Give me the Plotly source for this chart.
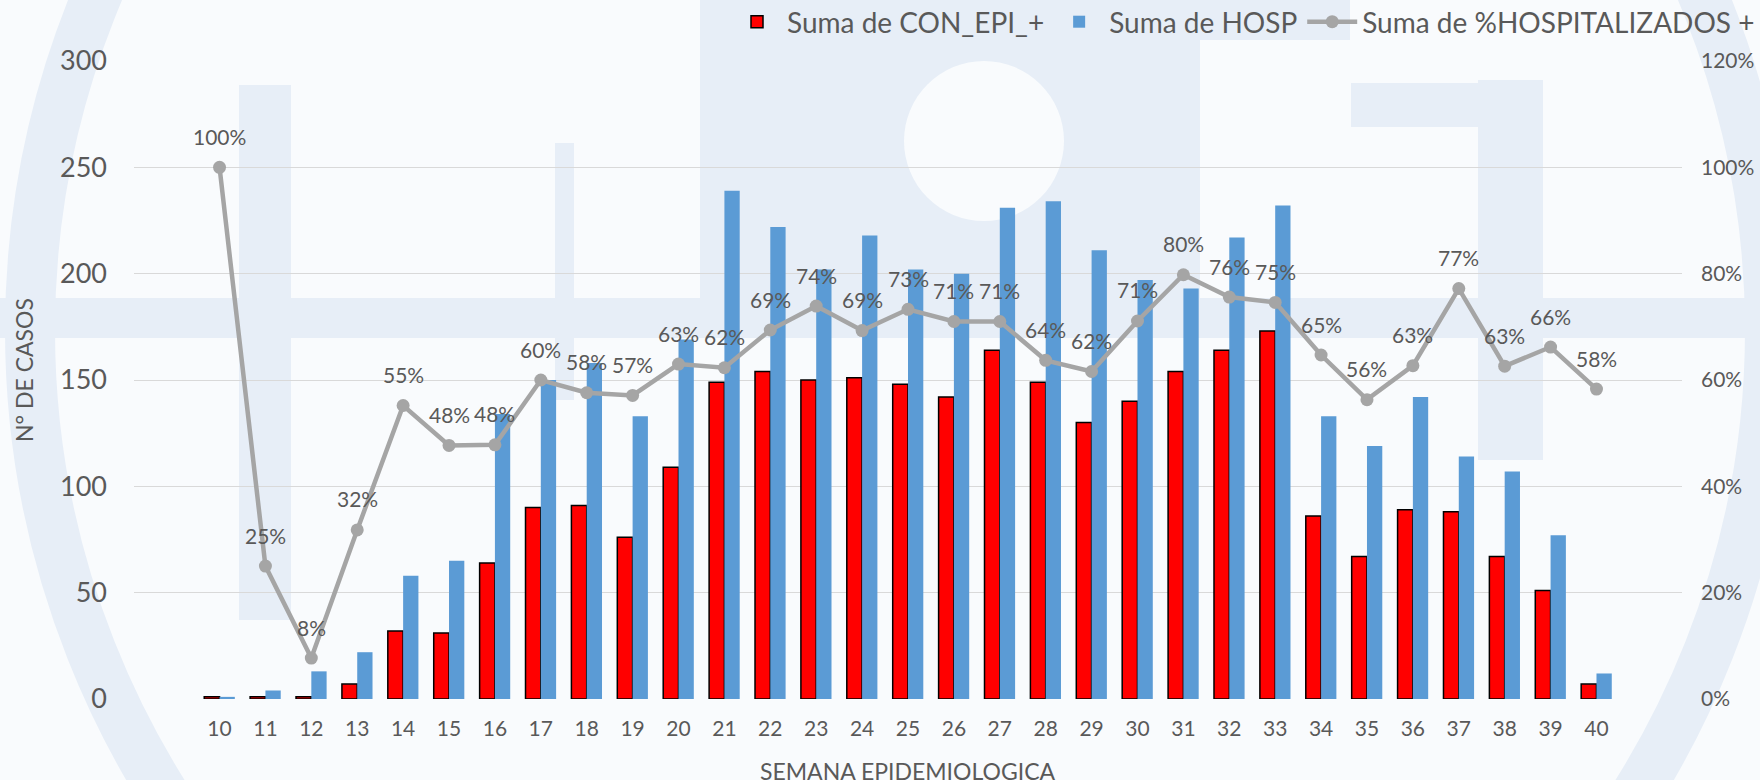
import plotly.graph_objects as go

# Epidemiological weeks
weeks = ["10", "11", "12", "13", "14", "15", "16", "17", "18", "19", "20",
         "21", "22", "23", "24", "25", "26", "27", "28", "29", "30",
         "31", "32", "33", "34", "35", "36", "37", "38", "39", "40"]

# Confirmed epidemiological cases per week
con_epi = [1, 1, 1, 7, 32, 31, 64, 90, 91, 76, 109,
           149, 154, 150, 151, 148, 142, 164, 149, 130, 140,
           154, 164, 173, 86, 67, 89, 88, 67, 51, 7]

# Hospitalised cases per week
hosp = [1, 4, 13, 22, 58, 65, 134, 150, 158, 133, 169,
        239, 222, 202, 218, 202, 200, 231, 234, 211, 197,
        193, 217, 232, 133, 119, 142, 114, 107, 77, 12]

# Share hospitalised (fraction)
pct_hosp = [1.00, 0.25, 0.077, 0.318, 0.552, 0.477, 0.478, 0.600, 0.576, 0.571, 0.630,
            0.623, 0.694, 0.739, 0.693, 0.733, 0.710, 0.710, 0.637, 0.616, 0.711,
            0.798, 0.756, 0.746, 0.647, 0.563, 0.627, 0.772, 0.626, 0.662, 0.583]

W, H = 1760, 780
ML, MR, MT, MB = 134, 78, 61, 81
PW, PH = W - ML - MR, H - MT - MB

TEXT = "#595959"
FONT = "Lato"


def px(x):
    return (x - ML) / PW


def py(y):
    return (H - MB - y) / PH


fig = go.Figure()

fig.add_trace(go.Bar(
    x=weeks, y=con_epi, name="Suma de CON_EPI_+",
    marker=dict(color="#FF0000", line=dict(color="#000000", width=1.5)),
))
fig.add_trace(go.Bar(
    x=weeks, y=hosp, name="Suma de HOSP",
    marker=dict(color="#5B9BD5", line=dict(width=0)),
))
fig.add_trace(go.Scatter(
    x=weeks, y=pct_hosp, name="Suma de %HOSPITALIZADOS +", yaxis="y2",
    mode="lines+markers",
    line=dict(color="#A5A5A5", width=4.5),
    marker=dict(color="#A5A5A5", size=13),
))

annotations = []
# percentage labels above each point (category index on the x axis)
for i, p in enumerate(pct_hosp):
    annotations.append(dict(
        x=i, y=p, xref="x", yref="y2", text=f"{round(p * 100)}%",
        showarrow=False, yshift=31, font=dict(size=21, color=TEXT, family=FONT),
    ))

annotations.append(dict(
    x=px(24), y=py(370), xref="paper", yref="paper", text="N° DE CASOS",
    textangle=-90, showarrow=False, xanchor="center", yanchor="middle",
    font=dict(size=23, color=TEXT, family=FONT),
))
annotations.append(dict(
    x=0.5, y=py(771), xref="paper", yref="paper", text="SEMANA EPIDEMIOLOGICA",
    showarrow=False, xanchor="center", yanchor="middle",
    font=dict(size=23, color=TEXT, family=FONT),
))

# faint emblem in the background
BAND = "#E7EEF7"
BG = "#F9FBFD"


def rect(x0, y0, x1, y1, color=BAND):
    return dict(type="rect", xref="paper", yref="paper",
                x0=px(x0), x1=px(x1), y0=py(y1), y1=py(y0),
                fillcolor=color, line=dict(width=0), layer="below")


def circle(cx, cy, r, fill=None, stroke=None, width=0):
    return dict(type="circle", xref="paper", yref="paper",
                x0=px(cx - r), x1=px(cx + r), y0=py(cy + r), y1=py(cy - r),
                fillcolor=fill or "rgba(0,0,0,0)",
                line=dict(color=stroke or "rgba(0,0,0,0)", width=width),
                layer="below")


shapes = [
    rect(700, 0, 1200, 300),
    circle(984, 141, 80, fill=BG),
    circle(900, 330, 870, stroke=BAND, width=50),
    rect(0, 298, W, 338),
    rect(239, 85, 291, 620),
    rect(555, 143, 574, 400),
    rect(1478, 80, 1543, 460),
    rect(1351, 83, 1478, 127),
    rect(1160, 0, 1350, 40),
]

fig.update_layout(
    width=W, height=H, autosize=False,
    margin=dict(l=ML, r=MR, t=MT, b=MB, pad=0, autoexpand=False),
    paper_bgcolor=BG, plot_bgcolor="rgba(0,0,0,0)",
    font=dict(family=FONT, color=TEXT),
    barmode="group", bargap=1 / 3, bargroupgap=0,
    showlegend=True,
    legend=dict(
        orientation="h", xref="container", yref="container",
        xanchor="right", yanchor="middle",
        x=1.0, y=1 - 22 / H, bgcolor="rgba(0,0,0,0)",
        font=dict(size=28, color=TEXT, family=FONT),
        traceorder="normal", itemwidth=50,
    ),
    xaxis=dict(
        type="category", showgrid=False, showline=False, zeroline=False,
        ticks="", tickfont=dict(size=21, color=TEXT), ticklabelstandoff=15,
    ),
    yaxis=dict(
        range=[0, 300], dtick=50, showgrid=True, gridcolor="#D9D9D9", gridwidth=1.2,
        zeroline=False, showline=False, ticks="",
        tickfont=dict(size=27, color=TEXT), ticklabelstandoff=26,
    ),
    yaxis2=dict(
        overlaying="y", side="right", range=[0, 1.2], dtick=0.2, tickformat=".0%",
        showgrid=False, zeroline=False, showline=False, ticks="",
        tickfont=dict(size=21, color=TEXT), ticklabelstandoff=18,
    ),
    annotations=annotations,
    shapes=shapes,
)

fig.write_html("out.html")
